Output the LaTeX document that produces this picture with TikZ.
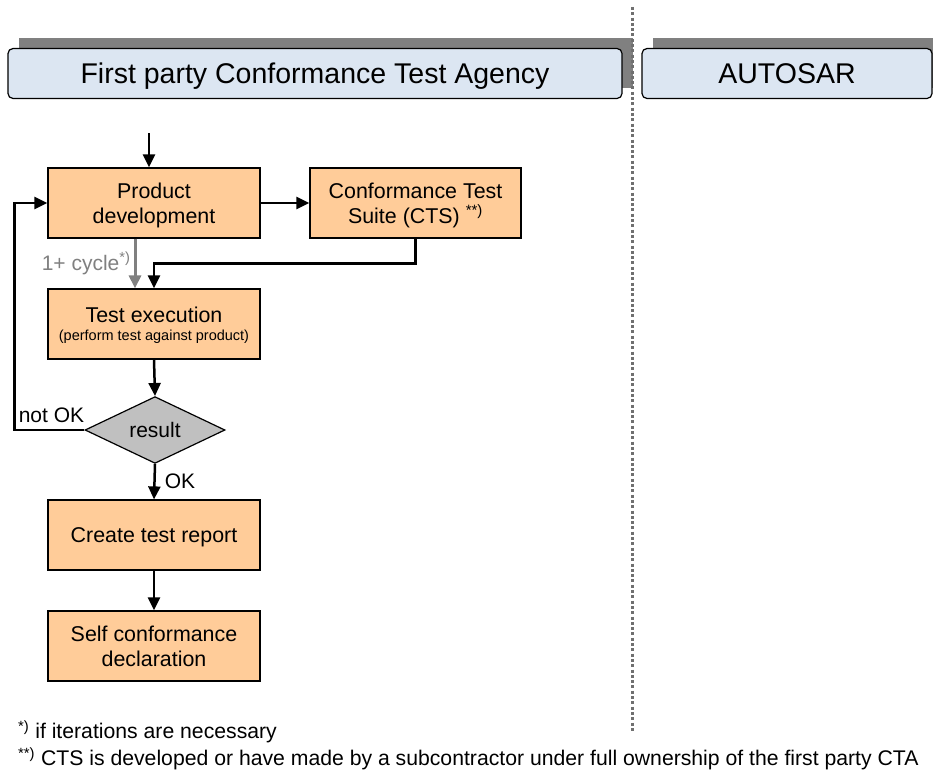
\documentclass[tikz,border=0pt]{standalone}
\usepackage{fontspec}
\setmainfont{Liberation Sans}
\usetikzlibrary{shapes.geometric,arrows.meta}
\definecolor{boxorange}{HTML}{FFCC99}
\definecolor{headblue}{HTML}{DCE6F2}
\definecolor{shadegray}{HTML}{808080}
\definecolor{dotgray}{HTML}{707070}
\definecolor{diamgray}{HTML}{C0C0C0}
\tikzset{
  stepbox/.style={draw,shape=rectangle,fill=boxorange,line width=1.2pt,minimum width=212pt,minimum height=70pt,inner sep=0pt,text depth=-1pt,align=center,font=\fontsize{21.4}{25}\selectfont},
  headbox/.style={draw,shape=rectangle,rounded corners=5pt,fill=headblue,line width=1.2pt,minimum height=50pt,text depth=0pt,font=\fontsize{28.5}{32}\selectfont},
  headshadow/.style={fill=shadegray},
  flow/.style={-{Triangle[length=13pt,width=12pt]},line width=2.5pt},
  lbl/.style={font=\fontsize{21}{24}\selectfont},
  note/.style={anchor=west,inner sep=0pt,font=\fontsize{21.2}{25}\selectfont}
}

\begin{document}
\begin{tikzpicture}[x=1pt,y=-1pt]
\useasboundingbox (0,0) rectangle (933,773);

\fill[headshadow] (19,38) rectangle (633,88);
\fill[headshadow] (653,38) rectangle (945,88);
\node (agency) [headbox,minimum width=614pt] at (315,73.5) {First party Conformance Test Agency};
\node (autosar) [headbox,minimum width=290pt] at (787,73.5) {AUTOSAR};

\node (proddev) [stepbox] at (154,203) {Product\\development};
\node (cts) [stepbox,minimum width=211pt] at (415.5,203) {Conformance Test\\Suite (CTS) \textsuperscript{**)}};
\node (testexec) [stepbox] at (154,324) {Test execution\\[-7pt]{\fontsize{14.5}{17}\selectfont (perform test against product)}};
\node (result) [draw,shape=diamond,fill=diamgray,line width=1.2pt,minimum width=140pt,minimum height=59pt,inner sep=0pt,font=\fontsize{21}{24}\selectfont] at (155,430) {result};
\node (report) [stepbox] at (154,535) {Create test report};
\node (selfdecl) [stepbox] at (154,646) {Self conformance\\declaration};

\coordinate (entry) at (149,133);

\draw[flow] (entry) -- (entry |- proddev.north);
\draw[flow] (proddev.east) -- (cts.west);
\draw[flow,shadegray,line width=3pt] ([xshift=-19pt]proddev.south) -- node (cycle) [lbl,left,text=shadegray,inner sep=3pt] {1+ cycle\textsuperscript{*)}} ([xshift=-19pt]testexec.north);
\draw[flow] (cts.south) -- ++(0,25) -| (testexec.north);
\draw[flow] (testexec.south) -- (result.north);
\draw[flow] (result.west) -- node (notok) [lbl,above,pos=0.47,inner sep=6pt] {not OK} ++(-70,0) |- (proddev.west);
\draw[flow] (result.south) -- node (ok) [lbl,right,inner sep=9pt] {OK} (report.north);
\draw[flow] (report.south) -- (selfdecl.north);

\draw[dotgray,line width=3pt,dash pattern=on 3pt off 2.3pt] (632,7) -- (632,733);

\node (note1) [note] at (18,732) {\textsuperscript{*)} if iterations are necessary};
\node (note2) [note] at (18,759) {\textsuperscript{**)} CTS is developed or have made by a subcontractor under full ownership of the first party CTA};
\end{tikzpicture}
\end{document}
